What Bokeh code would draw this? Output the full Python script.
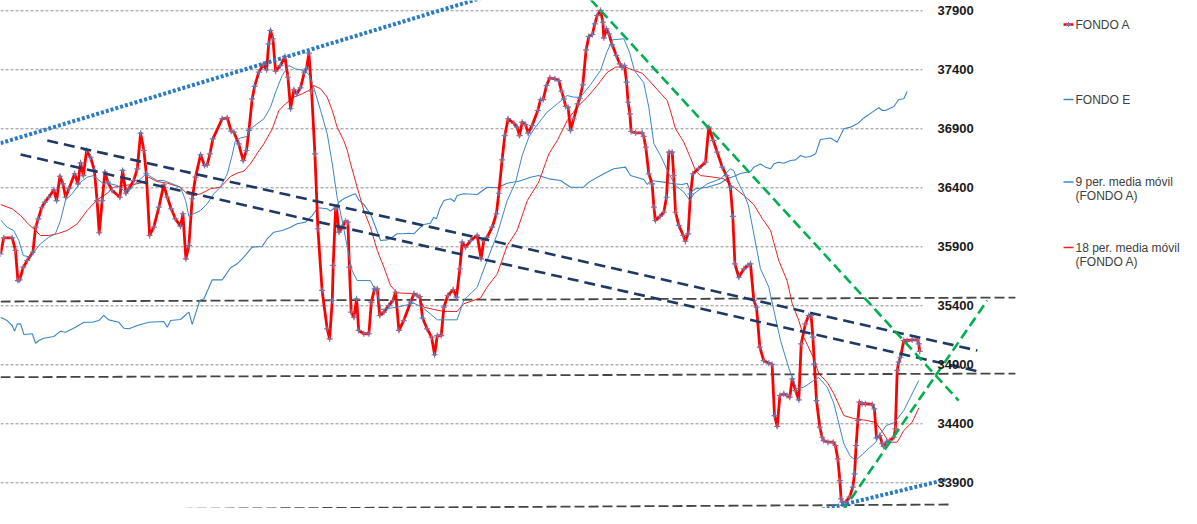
from bokeh.plotting import figure
from bokeh.models import Range1d
from bokeh.embed import file_html
from bokeh.resources import INLINE
from bokeh.core.properties import value

# ---------------- DATA ----------------
precios_ticks = [37900, 37400, 36900, 36400, 35900, 35400, 34900, 34400, 33900]

fondo_a_sesion = [0, 1.1, 3.9, 5, 5.8, 6.4, 7.6, 8.9, 10.8, 11.7, 12.6, 13.7, 14.8, 16.1, 17.8, 18.7, 19.8, 20.8, 21.7, 22.8,
                  24.7, 25.8, 26.7, 27.6, 28.7, 30, 31.3, 32.2, 32.9, 33.9, 34.8, 35.8, 37.2, 39.8, 40.7, 41.8, 42.8, 44.4, 45.6, 46.7,
                  47.8, 48.6, 49.7, 51.1, 52.8, 54.4, 55.6, 56.9, 58.3, 60, 60.8, 61.8, 62.8, 63.9, 65, 66.7, 68, 68.9, 69.8, 70.8,
                  73.9, 75.6, 76.9, 77.8, 79.4, 80.9, 82, 82.8, 83.9, 84.7, 86.1, 87.6, 88.7, 89.4, 90, 90.8, 91.7, 93.3, 94.8, 95.8,
                  96.7, 97.8, 98.7, 100, 101.3, 102, 102.8, 103.7, 104.8, 105.8, 107.2, 108.9, 109.7, 110.6, 110.9, 111.7, 112, 112.8, 113.9, 115,
                  115.8, 116.3, 116.9, 117.8, 118.7, 119.4, 121.1, 122.8, 123.6, 124.7, 125.6, 126.4, 127.8, 129.4, 130.8, 131.7, 132.8, 134.4, 136.7, 137.8,
                  138.9, 139.8, 140.7, 142.2, 143.7, 144.7, 145.6, 146.9, 147.8, 149.1, 150.9, 152, 153.1, 153.9, 155, 156.7, 158.9, 160.2, 161.1, 162.2,
                  163.9, 165.3, 166.1, 167.2, 168.1, 169.2, 171.1, 172.2, 173, 173.9, 175, 175.9, 177.2, 179.1, 180, 180.9, 182, 183.1, 184.8, 186.1,
                  187, 187.8, 188.4, 189.2, 190, 191.1, 192.4, 193.1, 194.1, 195.2, 196.1, 197.3, 198.1, 198.9, 200, 200.8, 201.1, 202, 202.8, 203.9,
                  205.3, 206.4, 207.2, 208, 208.7, 209.2, 209.8, 210.2, 211.7, 213.9, 214.4, 215.1, 216.1, 217.2, 217.8, 218.3, 219.8, 221.1, 222, 222.8,
                  223.9, 224.4, 225, 226.1, 227.6, 228.3, 229.2, 230, 230.8, 232.7, 235, 236.1, 237.6, 238.9, 240.6, 242, 243.3, 244.1, 244.8, 246.1,
                  247.8, 249.1, 250, 251.1, 252, 253.1, 254.4, 256.1, 257.2, 258, 258.9, 259.8, 261.1, 262.2, 263.1, 263.9, 265, 266.1, 266.9, 268.3,
                  269.4, 270.2, 270.8, 271.3, 272, 273.1, 273.9, 274.4, 275.8, 277.6, 278.3, 279.1, 279.8, 280.2, 280.6, 281.7, 283, 284.1, 284.7, 285.2,
                  285.8, 286.3, 287.2, 288.3, 290.6, 291.3, 292, 293.1, 293.9, 294.4, 295.3, 296.4, 297.8, 298.3, 298.9, 299.4, 300, 301.1, 302.2, 303.9,
                  305.6, 306.1, 306.4]
fondo_a = [35840, 35976, 35976, 35869, 35614, 35620, 35727, 35784, 35854, 36066, 36137, 36231, 36278, 36320, 36383, 36292, 36498, 36434, 36320, 36392,
           36519, 36434, 36612, 36504, 36716, 36659, 36547, 36292, 36019, 36292, 36532, 36448, 36377, 36320, 36547, 36354, 36392, 36462, 36561, 36863,
           36716, 36519, 35996, 36066, 36236, 36425, 36320, 36222, 36137, 36075, 36180, 35798, 35911, 36307, 36490, 36680, 36589, 36595, 36688, 36815,
           36985, 36993, 36880, 36871, 36773, 36631, 36716, 36886, 37154, 37259, 37380, 37445, 37400, 37620, 37733, 37663, 37388, 37436, 37513, 37337,
           37070, 37231, 37197, 37247, 37380, 37409, 37541, 37219, 36688, 36053, 35530, 35205, 35120, 35445, 35742, 36222, 36236, 36024, 36066, 36117,
           36109, 35727, 35346, 35303, 35459, 35191, 35163, 35163, 35431, 35544, 35544, 35318, 35346, 35402, 35445, 35515, 35191, 35275, 35431, 35502,
           35487, 35479, 35295, 35205, 35134, 34985, 35148, 35148, 35388, 35487, 35536, 35473, 35713, 35939, 35897, 35953, 35996, 35798, 35953, 35981,
           36066, 36180, 36354, 36637, 36843, 36985, 36947, 36914, 36843, 36956, 36936, 36863, 36928, 37055, 37146, 37148, 37267, 37332, 37324, 37309,
           37219, 37154, 37089, 37083, 36886, 36985, 37112, 37159, 37273, 37569, 37682, 37699, 37790, 37860, 37903, 37803, 37671, 37747, 37705, 37612,
           37521, 37451, 37422, 37436, 37295, 37125, 37027, 36877, 36866, 36866, 36835, 36744, 36519, 36434, 36236, 36123, 36157, 36193, 36320, 36702,
           36702, 36504, 36193, 36081, 35996, 35948, 36010, 36349, 36519, 36564, 36617, 36914, 36801, 36702, 36575, 36504, 36405, 36157, 35756, 35642,
           35713, 35742, 35756, 35445, 35388, 35049, 34936, 34914, 34903, 34470, 34377, 34640, 34654, 34640, 34625, 34781, 34682, 34603, 35078, 35247,
           35318, 35318, 35134, 34908, 34597, 34371, 34286, 34258, 34244, 34244, 34216, 34103, 33919, 33764, 33736, 33736, 33778, 33863, 33976, 34216,
           34428, 34583, 34570, 34570, 34564, 34527, 34281, 34301, 34231, 34208, 34244, 34258, 34286, 34358, 34852, 34922, 34964, 35106, 35106, 35112,
           35112, 35078, 35013]

fondo_e_sesion = [0, 2.2, 3.9, 4.7, 5.6, 6.7, 7.8, 10.6, 11.7, 12.8, 14.4, 17.8, 20, 21.7, 25, 27.8, 30.6, 32.8, 34.4, 36.1,
                  39.4, 41.1, 42.8, 45.6, 49.4, 54.4, 55.6, 56.7, 60, 62.8, 63.9, 65, 66.4, 67.8, 70.6, 73.9, 76.7, 78.9, 81.1, 83.9,
                  87.2, 88.9, 91.1, 93.9, 96.7, 98.9, 101.7, 103.9, 105.8, 108.9, 110, 112, 112.8, 114.4, 116.7, 118.3, 119.4, 121.1, 123.3, 126.7,
                  128.9, 130.6, 132.2, 134.4, 136.1, 137.8, 140, 141.1, 143.3, 144.4, 145.3, 146.4, 147.8, 150, 151.3, 152.2, 154.4, 158.9, 162.2, 165.6,
                  168.9, 172.8, 176.7, 179.4, 182.8, 186.7, 190, 194.4, 196.1, 201.1, 204.4, 208.3, 210, 214.4, 215.6, 216.7, 221.1, 224.4, 227.2, 228.9,
                  230, 231.7, 235.6, 240, 242.2, 244.4, 246.7, 250, 251.1, 253.3, 255, 256.7, 257.8, 259.4, 261.1, 263.3, 265, 266.7, 268.3, 270,
                  271.7, 273.3, 276.7, 278.9, 281.1, 283.3, 285.6, 287.8, 290.6, 292.8, 293.9, 295, 297.8, 299.4, 301.1, 302.2]
fondo_e = [35303, 35275, 35233, 35185, 35247, 35247, 35157, 35163, 35083, 35106, 35125, 35140, 35185, 35176, 35219, 35261, 35261, 35275, 35318, 35281,
           35261, 35210, 35205, 35233, 35261, 35267, 35219, 35275, 35284, 35346, 35242, 35332, 35445, 35459, 35620, 35620, 35722, 35756, 35812, 35897,
           35903, 35968, 36024, 36038, 36066, 36095, 36109, 36165, 36231, 36222, 36202, 36242, 36278, 36307, 36335, 36349, 36298, 36259, 36180, 35953,
           35959, 35981, 36010, 36010, 36015, 36010, 36066, 36089, 36100, 36151, 36137, 36222, 36292, 36307, 36284, 36335, 36349, 36343, 36405, 36400,
           36439, 36456, 36490, 36504, 36476, 36462, 36405, 36405, 36448, 36519, 36561, 36575, 36504, 36470, 36428, 36462, 36448, 36434, 36428, 36439,
           36363, 36392, 36405, 36439, 36479, 36496, 36521, 36538, 36575, 36602, 36575, 36561, 36603, 36617, 36608, 36631, 36637, 36674, 36659, 36665,
           36688, 36809, 36822, 36786, 36900, 36914, 36942, 36992, 37041, 37078, 37055, 37055, 37089, 37148, 37154, 37216]

mm9_sesion = [0, 2.2, 4.4, 6.1, 7.6, 10, 11.1, 13.3, 16.1, 18.3, 20, 21.7, 23.9, 26.7, 28.9, 31.1, 32.2, 34.4, 36.7, 38.9,
              41.1, 42.8, 44.4, 46.7, 48.3, 49.4, 52.2, 54.4, 56.7, 60, 61.7, 62.8, 64.4, 66.7, 68.9, 71.1, 73.3, 75.6, 77.2, 78.3,
              80, 82.2, 83.3, 87.8, 90, 91.7, 93.9, 96.1, 98.3, 101.1, 102.8, 104.4, 106.7, 108.9, 110.6, 112.2, 113.9, 115.6, 117.2, 118.9,
              123.3, 125.6, 126.9, 132.2, 137.8, 140.6, 145.6, 152.2, 154.4, 158.9, 162.2, 165.6, 168.9, 171.7, 173.9, 176.1, 178.3, 182.2, 185.6, 188.9,
              191.1, 193.3, 196.7, 200, 202.2, 204, 207.8, 209.7, 211.3, 214.4, 216.1, 217.8, 220, 222.8, 225, 227.8, 229.8, 231.1, 235.6, 240,
              243.3, 244.4, 245.6, 247.8, 249.3, 251.1, 253.3, 256.1, 257.8, 260, 262.8, 265.3, 267.8, 270.6, 272.7, 275.6, 277.8, 281.1, 283.1, 285,
              287.3, 289.7, 291.7, 293.3, 295.3, 298, 301.1, 303.3, 306.1]
mm9 = [36129, 36066, 36038, 35953, 35826, 35812, 35854, 35925, 35981, 36010, 36123, 36298, 36349, 36448, 36490, 36504, 36476, 36434, 36434, 36420,
       36377, 36377, 36420, 36476, 36513, 36504, 36462, 36462, 36439, 36405, 36292, 36157, 36180, 36208, 36264, 36349, 36405, 36519, 36674, 36801,
       36822, 36835, 36900, 36985, 37083, 37210, 37352, 37436, 37408, 37394, 37360, 37253, 37055, 36858, 36603, 36320, 36123, 35897, 35699, 35614,
       35614, 35502, 35369, 35388, 35422, 35388, 35281, 35281, 35445, 35558, 35784, 36010, 36292, 36448, 36674, 36829, 36914, 37041, 37112, 37182,
       37168, 37168, 37275, 37394, 37555, 37654, 37663, 37547, 37394, 37292, 37083, 36773, 36674, 36519, 36420, 36363, 36292, 36349, 36434, 36476,
       36561, 36547, 36462, 36349, 36250, 36010, 35716, 35558, 35360, 35106, 34869, 34699, 34710, 34759, 34792, 34710, 34572, 34233, 34131, 34089,
       34140, 34199, 34242, 34315, 34386, 34411, 34513, 34625, 34767]

mm18_sesion = [0, 3.9, 6.7, 9.4, 11.7, 13.3, 16.1, 18.9, 22.2, 25.6, 28.9, 32.2, 35.6, 37.8, 41.1, 44.4, 47.8, 49.4, 52.2, 55.6,
               60, 62.2, 64.4, 66.7, 70, 73.3, 76.7, 78.9, 81.1, 83.3, 85.6, 87.8, 90.6, 92.8, 95, 97.8, 100.6, 102.8, 104.4, 106.7,
               108.9, 110.6, 112.2, 114.4, 115.6, 116.7, 118.9, 121.1, 123.3, 125.6, 127.8, 130, 132.2, 137.8, 139.4, 141.1, 144.4, 147.8, 152.2, 154.4,
               160, 162.2, 165.6, 168.9, 172.2, 175.6, 179.4, 182.8, 185.6, 188.9, 192.2, 195.6, 198.9, 202.2, 205, 207.8, 210.6, 213.9, 217.2, 220,
               222.2, 223.3, 225, 227.8, 230, 231.7, 233.3, 237.8, 241.1, 244.4, 247.8, 251.1, 253.9, 256.7, 259.4, 262.2, 263.9, 266.1, 267.8, 271.1,
               272.8, 275.6, 277.8, 281.1, 284.4, 288.9, 291.7, 293.9, 296.1, 298.9, 301.1, 303.9, 306.1]
mm18 = [36258, 36222, 36165, 36089, 36038, 35996, 35996, 36010, 36038, 36095, 36208, 36298, 36354, 36405, 36420, 36428, 36448, 36490, 36453, 36439,
        36405, 36349, 36335, 36349, 36392, 36405, 36496, 36524, 36541, 36603, 36693, 36773, 36900, 37055, 37112, 37168, 37197, 37225, 37267, 37239,
        37168, 37055, 36914, 36801, 36716, 36603, 36405, 36208, 36066, 35869, 35727, 35572, 35509, 35504, 35473, 35388, 35369, 35352, 35352, 35417,
        35466, 35558, 35671, 35911, 36038, 36292, 36448, 36688, 36801, 36970, 37083, 37168, 37267, 37377, 37422, 37428, 37400, 37371, 37281, 37202,
        37140, 37055, 36900, 36786, 36653, 36544, 36504, 36490, 36476, 36405, 36335, 36258, 36140, 36038, 35784, 35614, 35420, 35275, 35131, 34953,
        34824, 34750, 34654, 34470, 34445, 34428, 34411, 34335, 34244, 34244, 34343, 34414, 34534]

# trend lines drawn by the analyst: (session, value) end points
soporte_x0 = [0, 0, 0]
soporte_y0 = [35436, 34795, 33671]
soporte_x1 = [338.3, 338.3, 316.7]
soporte_y1 = [35470, 34826, 33716]

canal_x0 = [15.6, 6.7]
canal_y0 = [36801, 36682]
canal_x1 = [325.6, 325.6]
canal_y1 = [35021, 34846]

verde_x0 = [196.7, 277.8]
verde_y0 = [37996, 33553]
verde_x1 = [319.4, 328.9]
verde_y1 = [34597, 35445]

punteada_x0 = [0, 254.4]
punteada_y0 = [36778, 33552]
punteada_x1 = [163.3, 315.0]
punteada_y1 = [38032, 33926]

leyenda = ["FONDO A", "FONDO E", "9 per. media móvil", "18 per. media móvil"]

# ---------------- LAYOUT ----------------
W, H = 1181, 508
PX_PER_SESSION = 3.0
V_REF, PY_REF, PX_PER_UNIT = 37900, 10.3, 0.118


def X(px):  # picture pixel -> session coordinate
    return px / PX_PER_SESSION


def Y(py):  # picture pixel -> value coordinate
    return V_REF - (py - PY_REF) / PX_PER_UNIT


def clip(a, b):
    n = min(len(a), len(b))
    return list(a[:n]), list(b[:n])


p = figure(width=W, height=H,
           x_range=Range1d(X(0), X(W)), y_range=Range1d(Y(H), Y(0)),
           output_backend="svg", toolbar_location=None,
           x_axis_location=None, y_axis_location=None,
           min_border=0, outline_line_color=None,
           background_fill_color="white", border_fill_color="white")
p.xgrid.visible = False
p.ygrid.visible = False

# gridlines
n_t = len(precios_ticks)
p.segment(x0=[X(0)] * n_t, x1=[X(922)] * n_t, y0=precios_ticks, y1=precios_ticks,
          line_color="#8c8c8c", line_width=1, line_dash="3 2")

# horizontal support lines
p.segment(x0=soporte_x0, y0=soporte_y0, x1=soporte_x1, y1=soporte_y1,
          line_color="#454545", line_width=1.8, line_dash="10 4")

BLUE = "#3a86c8"
RED = "#ff0000"
RED_MA = "#f02020"

xe, ye = clip(fondo_e_sesion, fondo_e)
p.line(xe, ye, line_color=BLUE, line_width=1.1)

x18, y18 = clip(mm18_sesion, mm18)
p.line(x18, y18, line_color=RED_MA, line_width=1)

xa, ya = clip(fondo_a_sesion, fondo_a)
p.line(xa, ya, line_color=RED, line_width=2.8, line_join="round")
p.scatter(xa, ya, marker="cross", size=6, line_color="#7e72a6", line_width=1.2)

x9, y9 = clip(mm9_sesion, mm9)
p.line(x9, y9, line_color=BLUE, line_width=1)

# trend channels
p.segment(x0=canal_x0, y0=canal_y0, x1=canal_x1, y1=canal_y1,
          line_color="#1f3864", line_width=2.6, line_dash="11 6")
p.segment(x0=verde_x0, y0=verde_y0, x1=verde_x1, y1=verde_y1,
          line_color="#00b050", line_width=2.6, line_dash="10 5")
p.segment(x0=punteada_x0, y0=punteada_y0, x1=punteada_x1, y1=punteada_y1,
          line_color="#2a7bc2", line_width=4, line_dash="3 2")

# value labels (right side)
p.text(x=[X(937)] * n_t, y=precios_ticks, text=[str(t) for t in precios_ticks],
       text_align="left", text_baseline="middle",
       text_font=value("Liberation Sans"), text_font_style="bold",
       text_font_size="13px", text_color="#1a1a1a")

# legend (swatches + labels)
leg_py = [24, 99, 181.5, 247]
leg_colors = [RED, BLUE, BLUE, RED_MA]
leg_widths = [2.5, 1.3, 1.3, 1.3]
for py, col, lw in zip(leg_py, leg_colors, leg_widths):
    p.line([X(1063), X(1073)], [Y(py), Y(py)], line_color=col, line_width=lw)
p.scatter([X(1068)], [Y(leg_py[0])], marker="cross", size=5, line_color="#7e72a6", line_width=1)
ltxt = [leyenda[0], leyenda[1], leyenda[2], "(FONDO A)", leyenda[3], "(FONDO A)"]
lty = [24, 99, 181.5, 195.5, 247, 261.5]
p.text(x=[X(1075)] * 6, y=[Y(v) for v in lty], text=ltxt,
       text_align="left", text_baseline="middle",
       text_font=value("Liberation Sans"), text_font_size="12px", text_color="#404040")

open("out.html", "w").write(file_html(p, INLINE))
